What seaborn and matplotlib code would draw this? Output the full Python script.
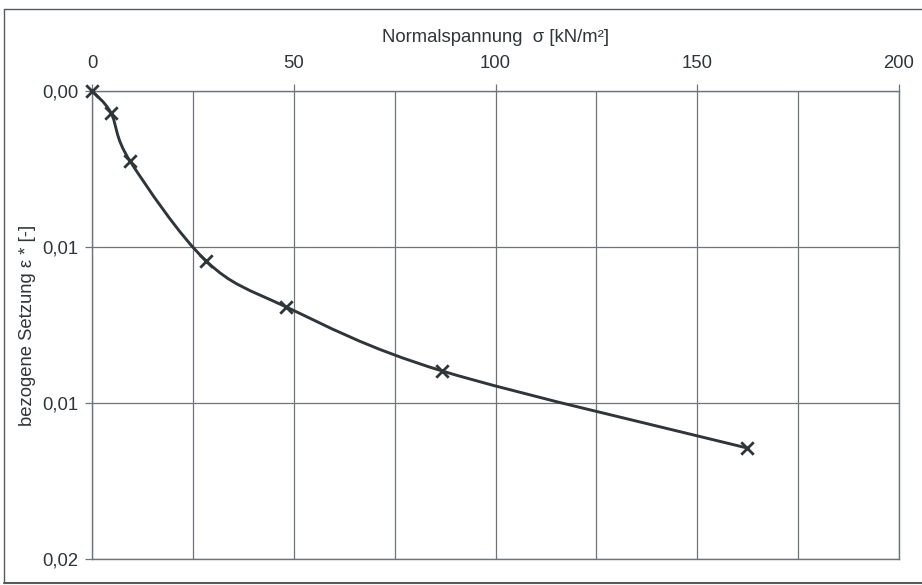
import matplotlib
matplotlib.use("Agg")
import matplotlib.pyplot as plt
import numpy as np
import pandas as pd
import seaborn as sns
from matplotlib.path import Path
from matplotlib.patches import PathPatch
from matplotlib.ticker import MultipleLocator, FuncFormatter
from matplotlib.lines import Line2D

# ---- data ----
sigma = [0.0, 4.7, 9.4, 28.3, 48.1, 86.7, 162.3]          # Normalspannung [kN/m²]
epsilon = [0.0, 0.0007, 0.00224, 0.00545, 0.00692, 0.00897, 0.01144]  # bezogene Setzung [-]
x_ticks = [0, 50, 100, 150, 200]
y_ticks = [0.0, 0.005, 0.010, 0.015]

x_label = "Normalspannung  σ [kN/m²]"
y_label = "bezogene Setzung ε * [-]"

df = pd.DataFrame({"sigma": sigma, "epsilon": epsilon})

sns.set_theme(style="white")
plt.rcParams["font.family"] = ["Liberation Sans", "DejaVu Sans"]
plt.rcParams["mathtext.default"] = "regular"

ink = "#2f3538"
grid_c = "#6f7479"
fs = 13.3

fig = plt.figure(figsize=(9.22, 5.85), dpi=100)
ax = fig.add_axes([92 / 922, 1 - 559 / 585, (899 - 92) / 922, (559 - 91) / 585])

ax.set_xlim(0, 200)
ax.set_ylim(0.015, 0.0)

# smoothed line (Bezier through the data points, Catmull-Rom style control points)
xs = np.asarray(df["sigma"])
ys = np.asarray(df["epsilon"])
n = len(xs)
verts = [(xs[0], ys[0])]
codes = [Path.MOVETO]
for i in range(n - 1):
    p0 = np.array([xs[max(i - 1, 0)], ys[max(i - 1, 0)]])
    p1 = np.array([xs[i], ys[i]])
    p2 = np.array([xs[i + 1], ys[i + 1]])
    p3 = np.array([xs[min(i + 2, n - 1)], ys[min(i + 2, n - 1)]])
    c1 = p1 + (p2 - p0) / 6.0
    c2 = p2 - (p3 - p1) / 6.0
    verts += [tuple(c1), tuple(c2), tuple(p2)]
    codes += [Path.CURVE4] * 3
patch = PathPatch(Path(verts, codes), facecolor="none", edgecolor=ink,
                  linewidth=2.1, transform=ax.transData, zorder=3)
ax.add_patch(patch)

sns.scatterplot(data=df, x="sigma", y="epsilon", marker="x", s=80,
                color=ink, linewidth=2.0, ax=ax, zorder=4, legend=False,
                clip_on=False)

# axes styling
ax.xaxis.tick_top()
ax.xaxis.set_label_position("top")
ax.set_xticks(x_ticks)
ax.xaxis.set_minor_locator(MultipleLocator(25))
ax.set_yticks(y_ticks)
ax.yaxis.set_major_formatter(FuncFormatter(lambda v, p: f"{v + 1e-12:.2f}".replace(".", ",")))
ax.tick_params(axis="x", which="major", direction="out", length=5, width=0.9,
               color=grid_c, labelsize=fs, labelcolor=ink, pad=9, top=True, bottom=False)
ax.tick_params(axis="x", which="minor", length=0, top=True, bottom=False)
ax.tick_params(axis="y", which="major", direction="out", length=5, width=0.9,
               color=grid_c, labelsize=fs, labelcolor=ink, pad=5, left=True)

ax.grid(True, which="both", axis="x", color=grid_c, linewidth=0.9)
ax.grid(True, which="major", axis="y", color=grid_c, linewidth=0.9)
for s in ax.spines.values():
    s.set_color(grid_c)
    s.set_linewidth(1.0)

ax.set_xlabel(x_label, fontsize=fs, color=ink, labelpad=9)
ax.set_ylabel(y_label, fontsize=fs, color=ink, labelpad=4)

# outer frame
fig.add_artist(Line2D([4 / 922, 4 / 922], [1 - 9 / 585, 1 - 583 / 585], color="#555a5e", lw=1.0))
fig.add_artist(Line2D([4 / 922, 1.0], [1 - 9 / 585, 1 - 9 / 585], color="#555a5e", lw=1.0))
fig.add_artist(Line2D([4 / 922, 1.0], [1 - 583 / 585, 1 - 583 / 585], color="#555a5e", lw=1.5))

fig.savefig("out.png", dpi=100)
